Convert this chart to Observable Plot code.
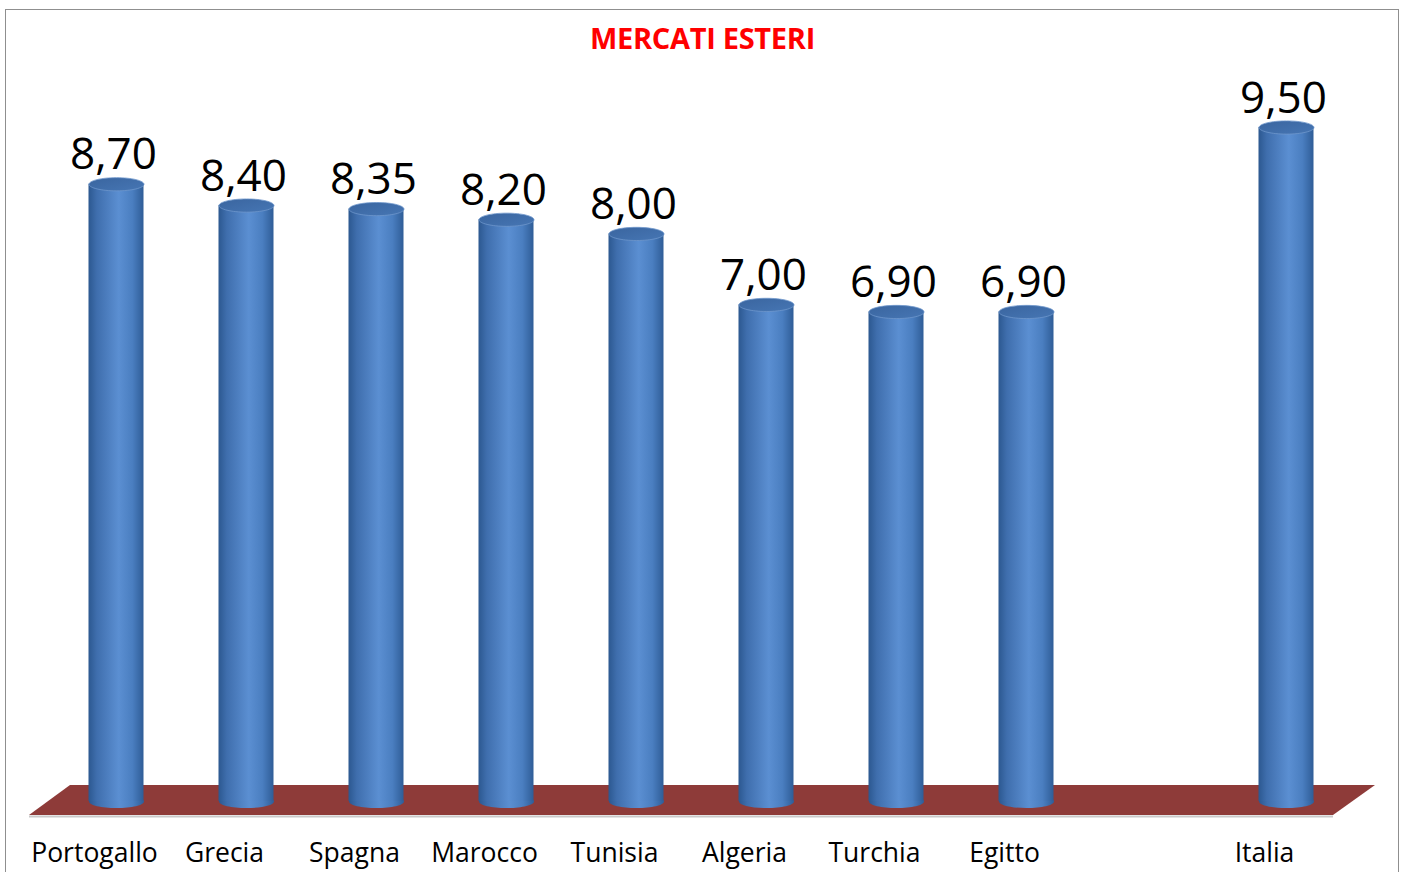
<!DOCTYPE html>
<html>
<head>
<meta charset="utf-8">
<script src="https://cdn.jsdelivr.net/npm/d3@7"></script>
<script src="https://cdn.jsdelivr.net/npm/@observablehq/plot@0.6"></script>
<style>
  html, body { margin: 0; padding: 0; background: #fff; }
  #wrap { position: relative; width: 1405px; height: 872px; overflow: hidden; font-family: "Open Sans", sans-serif; }
  #frame { position: absolute; left: 5px; top: 9px; width: 1394px; height: 900px; border: 1px solid #8f8f8f; box-sizing: border-box; pointer-events: none; }
  #title { position: absolute; left: 0; width: 1405px; top: 23px; line-height: 1; text-align: center; color: #ff0000; font-weight: 700; font-size: 29px; letter-spacing: -0.3px; font-family: "Open Sans", sans-serif; }
  #chart { position: absolute; left: 0; top: 0; }
</style>
</head>
<body>
<div id="wrap">
  <div id="frame"></div>
  <div id="chart"></div>
  <div id="title">MERCATI ESTERI</div>
</div>
<script>
const categories = ["Portogallo", "Grecia", "Spagna", "Marocco", "Tunisia", "Algeria", "Turchia", "Egitto", "", "Italia"];
const values = [8.70, 8.40, 8.35, 8.20, 8.00, 7.00, 6.90, 6.90, null, 9.50];

const data = categories.map((c, i) => ({cat: c, value: values[i]})).filter(d => d.value != null);

const svgns = "http://www.w3.org/2000/svg";

// ellipse symbol for cylinder caps
const ellipse = {
  draw(ctx, size) {
    const rx = Math.sqrt(size / Math.PI);
    const ry = rx * 0.24;
    const k = 0.5523;
    ctx.moveTo(-rx, 0);
    ctx.bezierCurveTo(-rx, -ry * k, -rx * k, -ry, 0, -ry);
    ctx.bezierCurveTo(rx * k, -ry, rx, -ry * k, rx, 0);
    ctx.bezierCurveTo(rx, ry * k, rx * k, ry, 0, ry);
    ctx.bezierCurveTo(-rx * k, ry, -rx, ry * k, -rx, 0);
    ctx.closePath();
  }
};

const defsMark = () => {
  const defs = document.createElementNS(svgns, "defs");
  defs.innerHTML = `
    <linearGradient id="cyl" x1="0" x2="1" y1="0" y2="0">
      <stop offset="0" stop-color="#2c5890"/>
      <stop offset="0.15" stop-color="#3f6ead"/>
      <stop offset="0.55" stop-color="#5b8fd2"/>
      <stop offset="0.8" stop-color="#4a7ec0"/>
      <stop offset="1" stop-color="#2f5d97"/>
    </linearGradient>
    <linearGradient id="cap" x1="0" x2="1" y1="0" y2="1">
      <stop offset="0" stop-color="#3a659f"/>
      <stop offset="1" stop-color="#4676b4"/>
    </linearGradient>`;
  return defs;
};

// floor (parallelogram) drawn from the scales
const floorMark = (index, scales, values, dims) => {
  const [x0, x1] = scales.x.range();
  const yz = scales.y(0);
  const g = document.createElementNS(svgns, "g");
  const top = yz - 16, bot = yz + 14;
  const pts = [[x0 - 22, bot], [x0 + 19, top], [x1 + 24, top], [x1 - 18, bot]];
  const p = document.createElementNS(svgns, "polygon");
  p.setAttribute("points", pts.map(d => d.join(",")).join(" "));
  p.setAttribute("fill", "#8e3b39");
  g.appendChild(p);
  const l = document.createElementNS(svgns, "line");
  l.setAttribute("x1", x0 - 22); l.setAttribute("x2", x1 - 18);
  l.setAttribute("y1", bot + 1.5); l.setAttribute("y2", bot + 1.5);
  l.setAttribute("stroke", "#c9c9c9"); l.setAttribute("stroke-width", 2);
  g.appendChild(l);
  return g;
};

const fmt = v => v.toFixed(2).replace(".", ",");

const chart = Plot.plot({
  width: 1405,
  height: 872,
  marginLeft: 51,
  marginRight: 54,
  marginTop: 127,
  marginBottom: 71,
  style: {background: "transparent", fontFamily: "Open Sans, sans-serif", overflow: "visible"},
  x: {domain: categories, padding: 0, axis: null},
  y: {domain: [0, 9.5], axis: null},
  marks: [
    defsMark,
    floorMark,
    Plot.dot(data, {x: "cat", y: 0, r: 27.5, symbol: ellipse, fill: "url(#cyl)"}),
    Plot.barY(data, {x: "cat", y: "value", insetLeft: 37.5, insetRight: 37.5, fill: "url(#cyl)"}),
    Plot.dot(data, {x: "cat", y: "value", r: 27.5, symbol: ellipse, fill: "url(#cap)", stroke: "#6f97cc", strokeWidth: 0.8}),
    Plot.text(data, {x: "cat", y: "value", text: d => fmt(d.value), dx: -3, dy: -15, lineAnchor: "bottom", fontSize: 44, fill: "#000"}),
    Plot.axisX({domain: categories, label: null, tickSize: 0, tickPadding: 42, dx: -22, fontSize: 26.5, color: "#000", tickFormat: d => d})
  ]
});

document.getElementById("chart").appendChild(chart);
</script>
</body>
</html>
